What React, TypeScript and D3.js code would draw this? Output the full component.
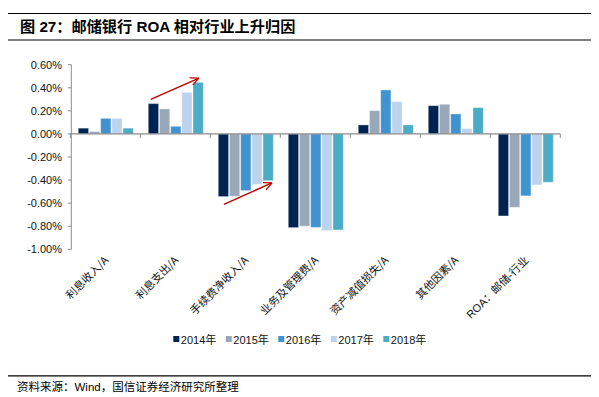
import React from "react";
import * as d3 from "d3";

const categories = ["利息收入/A", "利息支出/A", "手续费净收入/A", "业务及管理费/A", "资产减值损失/A", "其他因素/A", "ROA：邮储-行业"];
const years = ["2014年", "2015年", "2016年", "2017年", "2018年"];
const v2014 = [0.05, 0.263, -0.543, -0.812, 0.078, 0.245, -0.711];
const v2015 = [0.02, 0.217, -0.54, -0.8, 0.202, 0.257, -0.636];
const v2016 = [0.135, 0.066, -0.491, -0.81, 0.381, 0.173, -0.537];
const v2017 = [0.135, 0.36, -0.437, -0.838, 0.28, 0.046, -0.442];
const v2018 = [0.05, 0.447, -0.405, -0.832, 0.078, 0.228, -0.419];
const seriesValues = [v2014, v2015, v2016, v2017, v2018];
const colors = ["#002451", "#98A8B8", "#4193D0", "#BCD3EE", "#4BACC6"];
const yTicks = [0.6, 0.4, 0.2, 0, -0.2, -0.4, -0.6, -0.8, -1.0];
// annotation arrows: [category index, band fraction start, value start, band fraction end, value end]
const arrows = [
  { cat: 1, f0: 0.15, v0: 0.3, f1: 0.83, v1: 0.482 },
  { cat: 2, f0: 0.195, v0: -0.61, f1: 0.877, v1: -0.425 },
];

export default function App() {
  const W = 599, H = 397;
  const x0 = d3.scaleBand<string>().domain(categories).range([70.3, 560.3]).padding(0);
  const bw = x0.bandwidth();
  const x1 = d3.scaleBand<string>().domain(years).range([bw * 0.114, bw * 0.9]).paddingInner(0.08).paddingOuter(0);
  const y = d3.scaleLinear().domain([-1.0, 0.6]).range([249.3, 64.7]);
  const fmt = (v: number) => (v < 0 ? "-" : "") + Math.abs(v).toFixed(2) + "%";
  const axisColor = "#8c8c8c";
  const cjk = "'Noto Sans CJK SC', sans-serif";
  const latin = "'Liberation Sans', Arial, sans-serif";
  const legendX = d3.scalePoint<string>().domain(years).range([173.3, 383.3]);

  return (
    <svg width={W} height={H} style={{ position: "absolute", left: 0, top: 0, background: "#fff" }}>
      <defs>
        <marker id="arr" viewBox="0 0 10 10" refX="9" refY="5" markerWidth="9" markerHeight="9" orient="auto" markerUnits="userSpaceOnUse">
          <path d="M0,0.5 L9.5,5 L0,9.5" fill="none" stroke="#C00000" strokeWidth={1.4} />
        </marker>
      </defs>
      {/* title */}
      <line x1={8} x2={591} y1={13.5} y2={13.5} stroke="#000" strokeWidth={1.2} />
      <line x1={8} x2={591} y1={40} y2={40} stroke="#000" strokeWidth={1.2} />
      <text x={20} y={32} fontFamily={`${latin}, ${cjk}`} fontWeight="bold" fontSize={15.2} fill="#000">
        图 27：邮储银行 ROA 相对行业上升归因
      </text>

      {/* y axis */}
      <line x1={71.3} x2={71.3} y1={y(0.6)} y2={y(-1.0)} stroke={axisColor} strokeWidth={1} />
      {yTicks.map((t) => (
        <g key={t}>
          <line x1={67.8} x2={71.3} y1={y(t)} y2={y(t)} stroke={axisColor} />
          <text x={62} y={y(t)} dy="0.35em" textAnchor="end" fontFamily={latin} fontSize={11} fill="#111">
            {fmt(t)}
          </text>
        </g>
      ))}

      {/* bars */}
      {categories.map((c, ci) => (
        <g key={c} transform={`translate(${x0(c)},0)`}>
          {years.map((yr, si) => {
            const v = seriesValues[si][ci];
            const top = y(Math.max(0, v));
            const h = Math.abs(y(v) - y(0));
            return (
              <rect key={yr} x={x1(yr)} y={top} width={x1.bandwidth()} height={h} fill={colors[si]}
                stroke="#ffffff" strokeOpacity={0.35} strokeWidth={1} />
            );
          })}
        </g>
      ))}

      {/* x axis */}
      <line x1={70.3} x2={560.3} y1={y(0)} y2={y(0)} stroke={axisColor} strokeWidth={1.2} />
      {categories.concat(["end"]).map((c, i) => {
        const xx = 70.3 + i * bw;
        return <line key={"t" + i} x1={xx} x2={xx} y1={y(0)} y2={y(0) + 4} stroke={axisColor} />;
      })}

      {/* category labels */}
      {categories.map((c) => {
        const cx = (x0(c) as number) + bw / 2 + 4;
        const cy = 261;
        return (
          <text key={"l" + c} transform={`translate(${cx},${cy}) rotate(-45)`} textAnchor="end"
            fontFamily={c.startsWith("ROA") ? `${latin}, ${cjk}` : cjk} fontSize={11} fill="#111">
            {c}
          </text>
        );
      })}

      {/* arrows */}
      {arrows.map((a, i) => {
        const bx = x0(categories[a.cat]) as number;
        return (
          <line key={"a" + i} x1={bx + a.f0 * bw} y1={y(a.v0)} x2={bx + a.f1 * bw} y2={y(a.v1)}
            stroke="#C00000" strokeWidth={1.4} markerEnd="url(#arr)" />
        );
      })}

      {/* legend */}
      {years.map((yr, i) => (
        <g key={"lg" + yr} transform={`translate(${legendX(yr)},${340})`}>
          <rect x={0} y={-4} width={6} height={6} fill={colors[i]} />
          <text x={7.5} y={0} dy="0.35em" fontFamily={`${latin}, ${cjk}`} fontSize={11} fill="#111">
            {yr}
          </text>
        </g>
      ))}

      {/* source */}
      <line x1={8} x2={591} y1={375.8} y2={375.8} stroke="#000" strokeWidth={1.2} />
      <text x={17} y={391} fontFamily={`${latin}, ${cjk}`} fontSize={11.5} fill="#000">
        资料来源：Wind，国信证券经济研究所整理
      </text>
    </svg>
  );
}
